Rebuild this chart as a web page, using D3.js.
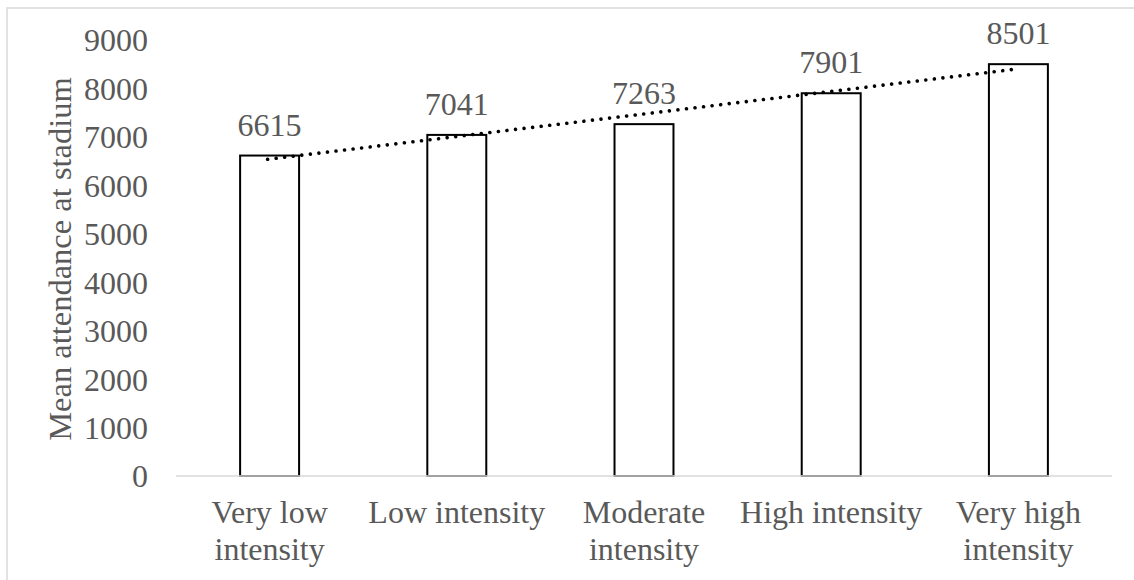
<!DOCTYPE html>
<html><head><meta charset="utf-8">
<script src="https://cdn.jsdelivr.net/npm/d3@7"></script>
<style>
html,body{margin:0;padding:0;background:#fff;}
svg{display:block;}
text{font-family:"Liberation Serif","Times New Roman",serif;fill:#595959;}
</style></head>
<body><svg id="c" width="1134" height="580"></svg>
<script>
const categories = [["Very low","intensity"],["Low intensity"],["Moderate","intensity"],["High intensity"],["Very high","intensity"]];
const values = [6615, 7041, 7263, 7901, 8501];
const yTicks = [0,1000,2000,3000,4000,5000,6000,7000,8000,9000];
const yTitle = "Mean attendance at stadium";

const svg = d3.select("#c");
const W = 1134, H = 580;
const m = {left:176, right:22, top:40, bottom:104};
const fs = 32;

// outer border
svg.append("rect").attr("x",7).attr("y",8).attr("width",W+10).attr("height",H+10)
  .attr("fill","none").attr("stroke","#d9d9d9").attr("stroke-width",1.5);

const x = d3.scaleBand().domain(d3.range(values.length)).range([m.left, W-m.right]).paddingInner(0.685).paddingOuter(0.3425);
const y = d3.scaleLinear().domain([0,9000]).range([H-m.bottom, m.top]);

// y tick labels
const ya = svg.append("g").attr("transform",`translate(${m.left},0)`)
  .call(d3.axisLeft(y).tickValues(yTicks).tickSize(0).tickPadding(28).tickFormat(d3.format("d")));
ya.select(".domain").remove();
ya.selectAll("text").style("font-size",fs+"px").attr("fill","#595959").attr("font-family",null).attr("dy","0.34em");

// bars
svg.append("g").selectAll("rect").data(values).join("rect")
  .attr("x",(d,i)=>x(i)).attr("width",x.bandwidth())
  .attr("y",d=>y(d)).attr("height",d=>y(0)-y(d))
  .attr("fill","#fff").attr("stroke","#000").attr("stroke-width",2);

// x axis line
svg.append("line").attr("x1",m.left).attr("x2",W-m.right).attr("y1",y(0)).attr("y2",y(0))
  .attr("stroke","#d9d9d9").attr("stroke-width",1.5);

// x labels
const xl = svg.append("g");
categories.forEach((lines,i)=>{
  const t = xl.append("text").attr("text-anchor","middle").style("font-size",fs+"px")
    .attr("x",x(i)+x.bandwidth()/2).attr("y",523);
  lines.forEach((ln,j)=>t.append("tspan").attr("x",x(i)+x.bandwidth()/2).attr("dy",j===0?0:37).text(ln));
});

// data labels
svg.append("g").selectAll("text").data(values).join("text")
  .attr("text-anchor","middle").style("font-size",fs+"px")
  .attr("x",(d,i)=>x(i)+x.bandwidth()/2).attr("y",d=>y(d)-20).text(d=>d);

// linear trendline (least squares fit of the values)
const n = values.length, xs = d3.range(1,n+1);
const mx = d3.mean(xs), my = d3.mean(values);
const slope = d3.sum(xs.map((xv,i)=>(xv-mx)*(values[i]-my))) / d3.sum(xs.map(xv=>(xv-mx)*(xv-mx)));
const icpt = my - slope*mx;
svg.append("line")
  .attr("x1",x(0)+x.bandwidth()/2-2).attr("y1",y(icpt+slope*1))
  .attr("x2",x(n-1)+x.bandwidth()/2-6).attr("y2",y(icpt+slope*n))
  .attr("stroke","#000").attr("stroke-width",3.6).attr("stroke-linecap","round")
  .attr("stroke-dasharray","0.01 8.6");

// y title
svg.append("text").attr("text-anchor","middle").style("font-size",(fs+0.5)+"px")
  .attr("transform",`translate(71,${(y(0)+y(9000))/2+1}) rotate(-90)`).text(yTitle);
</script></body></html>
